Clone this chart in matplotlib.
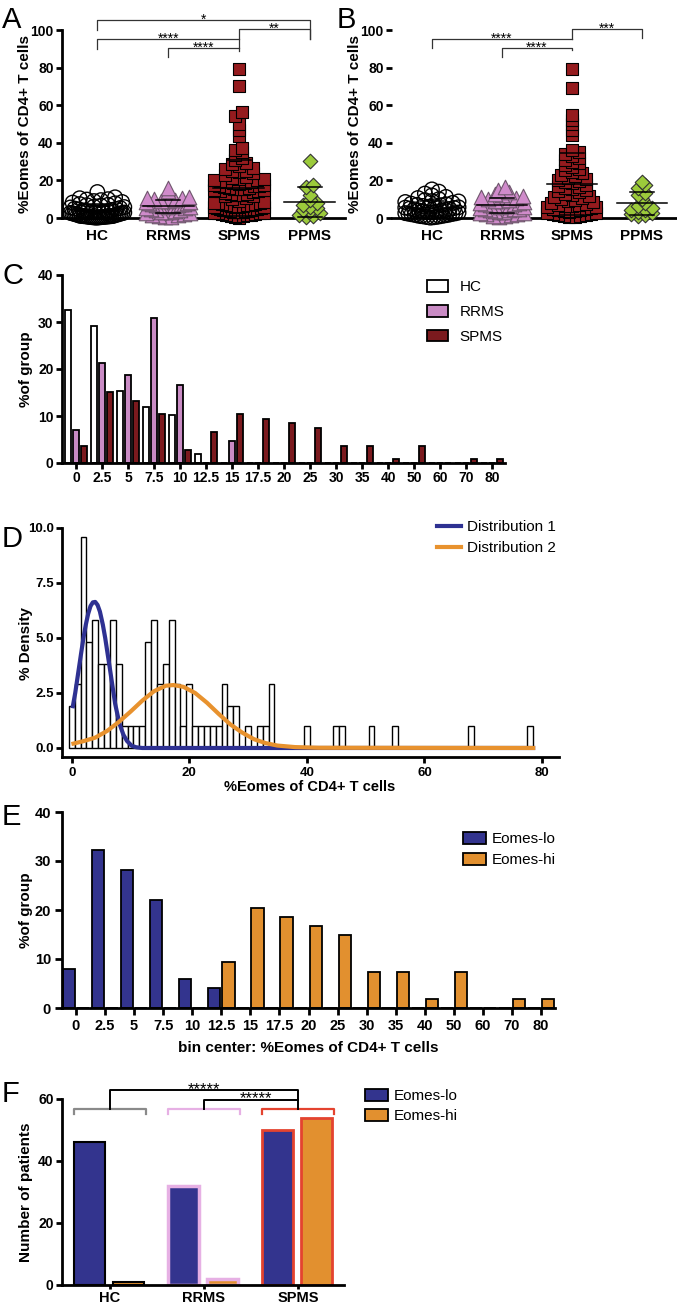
import numpy as np
import matplotlib
matplotlib.use('Agg')
import matplotlib.pyplot as plt
from matplotlib.patches import Patch

plt.rcParams['font.family'] = ['Liberation Sans', 'DejaVu Sans']
plt.rcParams['font.weight'] = 'bold'

# ---------------- data ----------------
groups4 = ['HC', 'RRMS', 'SPMS', 'PPMS']

# panel A: %Eomes of CD4+ T cells per patient
hc_a = [0.2, 0.3, 0.4, 0.5, 0.5, 0.6, 0.7, 0.8, 0.9, 1.0, 1.0, 1.1, 0.3, 0.6, 0.8, 1.2, 0.4, 0.9, 1.1,
        1.5, 1.7, 1.9, 2.0, 2.2, 2.4, 2.5, 2.7, 2.9, 3.0, 3.1, 3.3, 3.5, 3.6, 1.8, 2.6, 3.2,
        4.0, 4.3, 4.6, 5.0, 5.3, 5.6, 6.0, 4.8, 5.8,
        6.5, 7.0, 7.4, 7.8, 8.2, 8.5, 6.8,
        9.0, 9.5, 10.0, 10.5, 11.0, 9.8, 13.8]
rrms_a = [0.3, 0.6, 1.0, 1.5, 1.8, 2.1, 2.4, 2.7, 3.0, 3.2, 3.4, 3.6,
          4.0, 4.4, 4.8, 5.1, 5.4, 5.7, 6.0, 6.2,
          6.4, 6.6, 6.9, 7.1, 7.3, 7.5, 7.7, 7.9, 8.1, 8.3, 8.5, 6.5, 7.0,
          9.0, 9.3, 9.6, 10.0, 10.4, 10.8, 11.1, 14.5, 15.8]
spms_a = [0.2, 0.5, 0.8, 1.0,
          1.4, 1.6, 1.8, 2.0, 2.2, 2.4, 2.5, 2.6, 2.8, 3.0, 3.1, 3.3, 3.4, 3.5, 3.6,
          3.9, 4.1, 4.3, 4.5, 4.8, 5.0, 5.2, 5.4, 5.6, 5.8, 6.0, 6.1, 4.7,
          6.4, 6.6, 6.9, 7.1, 7.4, 7.6, 7.8, 8.0, 8.2, 8.5, 7.0,
          9.2, 10.0, 10.8,
          11.5, 12.0, 12.4, 12.8, 13.0, 13.3, 11.8,
          14.0, 14.3, 14.6, 14.9, 15.2, 15.5, 15.8, 16.0, 14.8, 15.4,
          16.5, 16.9, 17.2, 17.5, 17.8, 18.1, 18.4, 18.7, 17.0,
          19.0, 19.4, 19.8, 20.2, 20.6, 21.0, 21.4, 21.8, 20.0,
          23.0, 23.8, 24.5, 25.2, 26.0, 26.8, 27.5, 24.8,
          28.5, 29.5, 31.0, 32.0, 33.5, 35.0, 36.0, 37.0,
          43.5, 47.0, 50.0, 54.0, 56.5, 70.0, 79.5]
ppms_a = [0.5, 1.0, 1.5, 2.5, 3.5, 4.5, 5.5, 6.0, 7.0, 8.0, 9.5, 12.0, 16.5, 17.5, 30.5]

# panel B
hc_b = [0.2, 0.4, 0.6, 0.8, 1.0, 1.2, 0.5, 0.9, 1.5, 1.8, 2.0, 2.3, 2.6, 2.9, 3.1, 3.4, 3.7, 4.0,
        1.7, 2.5, 3.0, 4.3, 4.6, 5.0, 5.3, 5.7, 6.0, 6.4, 6.8, 7.2, 4.8, 5.5, 7.6, 8.0, 8.5,
        9.0, 9.5, 6.2, 7.0, 10.0, 10.6, 11.2, 12.0, 8.8, 13.0, 14.0, 15.2, 3.5, 2.2, 1.3]
rrms_b = [0.4, 0.8, 1.2, 1.6, 2.0, 2.4, 2.8, 3.2, 3.6, 4.0, 4.4, 4.8, 5.2, 5.6, 6.0, 6.3, 6.6,
          7.0, 7.4, 7.8, 8.2, 8.6, 9.0, 9.5, 10.0, 10.5, 11.0, 11.6, 12.2, 13.0, 14.0, 15.0,
          16.5, 5.0, 6.2, 3.0, 4.6, 7.2, 2.2, 9.3]
spms_b = [0.3, 0.6, 0.9, 1.2, 1.5, 1.8, 2.0, 2.3, 2.6, 2.9, 3.2, 3.5, 3.8, 4.1, 4.4, 4.7, 5.0,
          5.3, 5.6, 5.9, 6.2, 6.5, 6.8, 7.1, 7.5, 8.0, 8.5, 9.0, 9.5, 10.0, 10.6, 11.2, 11.8,
          12.4, 13.0, 13.6, 14.2, 14.8, 15.4, 16.0, 16.6, 17.2, 17.8, 18.4, 19.0, 19.6, 20.2,
          20.8, 21.5, 22.2, 23.0, 23.8, 24.6, 25.4, 26.2, 27.0, 28.0, 29.0, 30.0, 31.0, 32.0,
          33.0, 34.0, 35.0, 36.0, 44.0, 47.0, 50.0, 52.0, 55.0, 69.0, 79.0]
ppms_b = [0.8, 1.5, 2.0, 2.5, 3.0, 4.0, 4.5, 5.5, 6.5, 8.0, 10.0, 12.5, 13.5, 16.0, 17.5, 19.0]

# panel C: % of group per bin
bin_labels = ['0', '2.5', '5', '7.5', '10', '12.5', '15', '17.5', '20', '25', '30', '35',
              '40', '50', '60', '70', '80']
c_hc = [32.5, 29.1, 15.3, 11.9, 10.2, 1.9, 0, 0, 0, 0, 0, 0, 0, 0, 0, 0, 0]
c_rrms = [7.0, 21.2, 18.8, 30.8, 16.5, 0, 4.6, 0, 0, 0, 0, 0, 0, 0, 0, 0, 0]
c_spms = [3.7, 15.2, 13.2, 10.4, 2.7, 6.5, 10.4, 9.4, 8.5, 7.5, 3.7, 3.7, 0.9, 3.7, 0, 0.9, 0.9]

# panel D: histogram (% density, bin width 1) and fitted curves
d_centers = [0, 1, 2, 3, 4, 5, 6, 7, 8, 9, 10, 11, 12, 13, 14, 15, 16, 17, 18, 19, 20, 21, 22,
             23, 24, 25, 26, 27, 28, 30, 32, 33, 34, 40, 45, 46, 51, 55, 68, 78]
d_pct = [1.9, 2.9, 9.6, 4.8, 5.8, 3.8, 3.8, 5.8, 3.8, 1.0, 1.0, 1.0, 1.0, 4.8, 5.8, 2.9, 3.8,
         5.8, 2.9, 1.0, 2.9, 1.0, 1.0, 1.0, 1.0, 1.0, 2.9, 1.9, 1.9, 1.0, 1.0, 1.0, 2.9, 1.0,
         1.0, 1.0, 1.0, 1.0, 1.0, 1.0]
dist1_x = [0.2, 0.6, 1.1, 1.6, 2.0, 2.4, 2.8, 3.2, 3.6, 4.0, 4.4, 4.8, 5.3, 5.7, 6.1, 6.5,
           7.0, 7.4, 7.8, 8.2, 8.8, 9.4, 10.2, 11.0, 12.0, 78.5]
dist1_y = [1.9, 2.5, 3.4, 4.3, 5.0, 5.6, 6.1, 6.45, 6.62, 6.64, 6.5, 6.2, 5.6, 5.0, 4.3, 3.6,
           2.7, 2.0, 1.5, 1.05, 0.6, 0.32, 0.1, 0.03, 0.0, 0.0]
dist2_x = [0.3, 2, 4, 6, 8, 10, 12, 14, 16, 17.3, 19, 21, 23, 25, 27, 29, 31, 33, 35, 38, 42, 78.5]
dist2_y = [0.2, 0.31, 0.47, 0.77, 1.18, 1.65, 2.15, 2.58, 2.83, 2.86, 2.78, 2.50, 2.06, 1.55,
           1.07, 0.70, 0.40, 0.22, 0.11, 0.04, 0.01, 0.0]

# panel E
e_lo = [8.0, 32.2, 28.1, 22.1, 6.0, 4.0, 0, 0, 0, 0, 0, 0, 0, 0, 0, 0, 0]
e_hi = [0, 0, 0, 0, 0, 9.3, 20.4, 18.6, 16.7, 14.8, 7.4, 7.4, 1.9, 7.4, 0, 1.9, 1.9]

# panel F
f_groups = ['HC', 'RRMS', 'SPMS']
f_lo = [46, 32, 50]
f_hi = [1, 2, 54]

# ---------------- colours ----------------
C_HC = 'white'
C_RRMS = '#C98BC4'
C_SPMS = '#7B1A1E'
C_PPMS = '#9CCB3B'
C_LO = '#33348E'
C_HI = '#E2902F'
F_EDGE = ['black', '#E6B0E4', '#E4432F']

W, H = 677, 1308
fig = plt.figure(figsize=(W / 100, H / 100), dpi=100)


def add_ax(l, t, r, b):
    return fig.add_axes([l / W, 1 - b / H, (r - l) / W, (b - t) / H])


def fx(x):
    return x / W


def fy(y):
    return 1 - y / H


def style(ax, size=10):
    for s in ['top', 'right']:
        ax.spines[s].set_visible(False)
    for s in ['left', 'bottom']:
        ax.spines[s].set_linewidth(2.0)
    ax.tick_params(width=2.0, length=4, labelsize=size, pad=2)


def swarm_x(vals, center, row, step, halfw):
    vals = np.asarray(vals, dtype=float)
    xs = np.full(len(vals), float(center))
    keys = np.floor(vals / row)
    for k in np.unique(keys):
        idx = np.where(keys == k)[0]
        idx = idx[np.argsort(vals[idx])]
        n = len(idx)
        s = step if n < 2 else min(step, 2 * halfw / (n - 1))
        offs = (np.arange(n) - (n - 1) / 2) * s
        offs = offs[np.argsort(np.abs(offs), kind='stable')]
        xs[idx] = center + offs
    return xs


def bracket(ax, x1, x2, y, yl, yr, text, tx, size=10, off=-3):
    ax.plot([x1, x1, x2, x2], [yl, y, y, yr], color='#333333', lw=0.9, clip_on=False)
    ax.annotate(text, xy=(tx, y), xytext=(0, off), textcoords='offset points',
                ha='center', va='baseline', fontsize=size, fontweight='normal',
                annotation_clip=False)


def scatter_panel(ax, data):
    # marker, size, face, edge, edge width, half width of the swarm
    specs = [('o', 110, 'none', 'black', 1.0, 0.38),
             ('^', 110, '#D08BCB', '#6E566C', 0.8, 0.31),
             ('s', 85, '#951B1E', 'black', 0.8, 0.35),
             ('D', 55, C_PPMS, '#333333', 0.8, 0.26)]
    for i, (vals, sp) in enumerate(zip(data, specs)):
        m, s, fc, ec, lw, hw = sp
        v = np.sort(np.asarray(vals, dtype=float))
        x = swarm_x(v, i, 3.0, 0.1, hw)
        ax.scatter(x, v, marker=m, s=s, facecolor=fc, edgecolor=ec, linewidths=lw,
                   clip_on=False, zorder=3)
        mean, sd = v.mean(), v.std(ddof=1)
        ax.plot([i - 0.36, i + 0.36], [mean, mean], color='black', lw=1.1, zorder=4)
        for yy in (mean + sd, mean - sd):
            ax.plot([i - 0.17, i + 0.17], [yy, yy], color='black', lw=1.1, zorder=4,
                    clip_on=False)
    ax.set_ylim(0, 100)
    ax.set_yticks([0, 20, 40, 60, 80, 100])
    ax.set_xticks(range(4))
    ax.set_xticklabels(groups4, fontsize=11)
    style(ax, 10)
    ax.tick_params(axis='x', length=0, pad=8)
    ax.tick_params(axis='x', labelsize=11)


# ---------------- A ----------------
ax_a = add_ax(62, 30, 345, 218)
ax_a.set_xlim(-0.5, 3.5)
scatter_panel(ax_a, [hc_a, rrms_a, spms_a, ppms_a])
bracket(ax_a, 0, 3, 105.3, 100.0, 95.2, '*', 1.5)
bracket(ax_a, 2, 3, 100.5, 88.8, 95.2, '**', 2.5)
bracket(ax_a, 0, 2, 95.2, 89.9, 95.2, '****', 1.0)
bracket(ax_a, 1, 2, 90.4, 85.6, 90.4, '****', 1.5)
fig.text(fx(25), fy(124), '%Eomes of CD4+ T cells', rotation=90, ha='center', va='center',
         fontsize=11)

# ---------------- B ----------------
ax_b = add_ax(392, 30, 677, 218)
ax_b.set_xlim(-0.57, 3.5)
scatter_panel(ax_b, [hc_b, rrms_b, spms_b, ppms_b])
ax_b.spines['left'].set_visible(False)
bracket(ax_b, 0, 2, 95.2, 90.4, 95.2, '****', 1.0)
bracket(ax_b, 1, 2, 90.4, 85.6, 89.4, '****', 1.5)
bracket(ax_b, 2, 3, 100.5, 95.2, 95.7, '***', 2.5)
fig.text(fx(355), fy(124), '%Eomes of CD4+ T cells', rotation=90, ha='center', va='center',
         fontsize=11)

# ---------------- C ----------------
ax_c = add_ax(62, 275, 505, 463)
xc = np.arange(len(bin_labels))
bw = 0.25
ax_c.bar(xc - 0.31, c_hc, bw, color=C_HC, edgecolor='black', linewidth=1.3, label='HC')
ax_c.bar(xc, c_rrms, bw, color=C_RRMS, edgecolor='black', linewidth=1.3, label='RRMS')
ax_c.bar(xc + 0.31, c_spms, bw, color=C_SPMS, edgecolor='black', linewidth=1.3, label='SPMS')
ax_c.set_xlim(-0.54, 16.5)
ax_c.set_ylim(0, 40)
ax_c.set_yticks([0, 10, 20, 30, 40])
ax_c.set_xticks(xc)
ax_c.set_xticklabels(bin_labels)
style(ax_c, 10)
ax_c.legend(loc='upper left', bbox_to_anchor=(fx(427), fy(280)), bbox_transform=fig.transFigure,
            frameon=False, prop={'size': 11, 'weight': 'normal'}, borderpad=0, borderaxespad=0,
            handlelength=1.4, handleheight=0.8, handletextpad=0.75, labelspacing=0.7)
fig.text(fx(26), fy(369), '%of group', rotation=90, ha='center', va='center', fontsize=11)

# ---------------- D ----------------
ax_d = add_ax(62, 528, 559, 757)
ax_d.bar(d_centers, d_pct, 1.0, color='white', edgecolor='black', linewidth=1.0, zorder=2)
ax_d.plot(dist1_x, dist1_y, color='#2E3192', lw=3.0, zorder=3, label='Distribution 1')
ax_d.plot(dist2_x, dist2_y, color='#E8922E', lw=3.0, zorder=4, label='Distribution 2')
ax_d.set_xlim(-1.65, 82.9)
ax_d.set_ylim(-0.41, 10)
ax_d.set_yticks([0, 2.5, 5, 7.5, 10])
ax_d.set_yticklabels(['0.0', '2.5', '5.0', '7.5', '10.0'])
ax_d.set_xticks([0, 20, 40, 60, 80])
style(ax_d, 9.5)
ax_d.tick_params(axis='x', pad=3)
ax_d.legend(loc='upper left', bbox_to_anchor=(fx(437), fy(520)), bbox_transform=fig.transFigure,
            frameon=False, prop={'size': 11, 'weight': 'normal'}, borderpad=0, borderaxespad=0,
            handlelength=1.6, handletextpad=0.35, labelspacing=0.45)
fig.text(fx(26), fy(643), '% Density', rotation=90, ha='center', va='center', fontsize=11)
fig.text(fx(310), fy(787), '%Eomes of CD4+ T cells', ha='center', va='center', fontsize=10.5)

# ---------------- E ----------------
ax_e = add_ax(62, 812, 555, 1008)
xe = np.arange(len(bin_labels))
ax_e.bar(xe - 0.245, e_lo, 0.42, color=C_LO, edgecolor='black', linewidth=1.3, label='Eomes-lo')
ax_e.bar(xe + 0.245, e_hi, 0.42, color=C_HI, edgecolor='black', linewidth=1.3, label='Eomes-hi')
ax_e.set_xlim(-0.48, 16.48)
ax_e.set_ylim(0, 40)
ax_e.set_yticks([0, 10, 20, 30, 40])
ax_e.set_xticks(xe)
ax_e.set_xticklabels(bin_labels)
style(ax_e, 10.5)
ax_e.tick_params(length=5, pad=3)
ax_e.legend(loc='upper left', bbox_to_anchor=(fx(463), fy(832)), bbox_transform=fig.transFigure,
            frameon=False, prop={'size': 11, 'weight': 'normal'}, borderpad=0, borderaxespad=0,
            handlelength=1.5, handleheight=0.8, handletextpad=0.35, labelspacing=0.45)
fig.text(fx(26), fy(910), '%of group', rotation=90, ha='center', va='center', fontsize=11)
fig.text(fx(308), fy(1048), 'bin center: %Eomes of CD4+ T cells', ha='center', va='center',
         fontsize=11)

# ---------------- F ----------------
ax_f = add_ax(62, 1099, 344, 1285)
xf = np.arange(len(f_groups))
ax_f.bar(xf - 0.22, f_lo, 0.33, color=C_LO, edgecolor=F_EDGE, linewidth=[1.5, 2.5, 2.0])
ax_f.bar(xf + 0.20, f_hi, 0.33, color=C_HI, edgecolor=F_EDGE, linewidth=[1.5, 2.5, 2.0])
ax_f.set_xlim(-0.51, 2.49)
ax_f.set_ylim(0, 60)
ax_f.set_yticks([0, 20, 40, 60])
ax_f.set_xticks(xf)
ax_f.set_xticklabels(f_groups)
style(ax_f, 10)
ax_f.tick_params(axis='x', labelsize=10.5, length=3, pad=1)
for i, c in enumerate(['#8A8A8A', F_EDGE[1], F_EDGE[2]]):
    ax_f.plot([i - 0.38, i - 0.38, i + 0.38, i + 0.38], [55.3, 56.7, 56.7, 55.3], color=c,
              lw=1.6, clip_on=False)
ax_f.plot([0, 0, 2, 2], [56.7, 62.8, 62.8, 56.7], color='black', lw=1.4, clip_on=False)
ax_f.plot([1, 1, 2], [56.7, 59.7, 59.7], color='black', lw=1.4, clip_on=False)
ax_f.annotate('*****', xy=(1.0, 62.8), xytext=(0, -2.5), textcoords='offset points', ha='center',
              va='baseline', fontsize=12, fontweight='normal', annotation_clip=False)
ax_f.annotate('*****', xy=(1.55, 59.7), xytext=(0, -2.5), textcoords='offset points', ha='center',
              va='baseline', fontsize=12, fontweight='normal', annotation_clip=False)
ax_f.legend([Patch(facecolor=C_LO, edgecolor='black', lw=1.3),
             Patch(facecolor=C_HI, edgecolor='black', lw=1.3)], ['Eomes-lo', 'Eomes-hi'],
            loc='upper left', bbox_to_anchor=(fx(365), fy(1089)), bbox_transform=fig.transFigure,
            frameon=False, prop={'size': 11, 'weight': 'normal'}, borderpad=0, borderaxespad=0,
            handlelength=1.5, handleheight=0.8, handletextpad=0.35, labelspacing=0.4)
fig.text(fx(26), fy(1192), 'Number of patients', rotation=90, ha='center', va='center',
         fontsize=11)

# panel letters
for letter, x, y in [('A', 2, 28), ('B', 337, 28), ('C', 2, 284), ('D', 2, 547), ('E', 2, 825),
                     ('F', 2, 1102)]:
    fig.text(fx(x), fy(y), letter, fontsize=21, fontweight='normal', ha='left', va='baseline')

fig.savefig('out.png', dpi=100)
